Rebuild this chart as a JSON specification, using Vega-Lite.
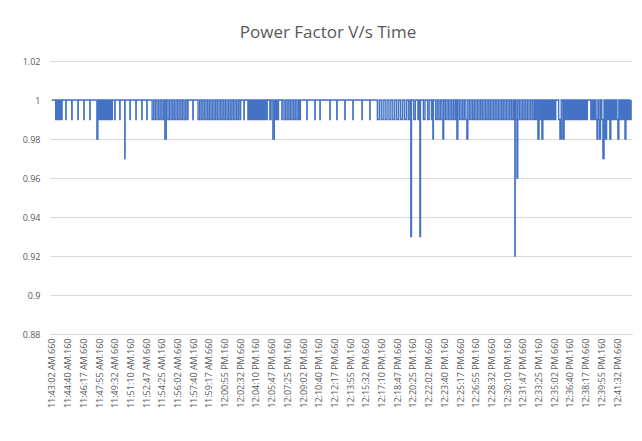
{
  "$schema": "https://vega.github.io/schema/vega-lite/v6.json",
  "autosize": "none",
  "width": 582,
  "height": 273,
  "padding": {"left": 50, "top": 61, "right": 10, "bottom": 107},
  "background": "white",
  "title": {"text": "Power Factor V/s Time", "fontSize": 17, "font": "Open Sans", "fontWeight": "normal", "color": "#595959", "dx": -13, "offset": 15},
  "config": {"view": {"stroke": null}},
  "data": {
    "format": {"parse": {"t": "utc:'%H:%M:%S'"}},
    "values": [
      {"t":"11:43:03","v":1},
      {"t":"11:43:20","v":1},{"t":"11:43:26","v":0.99},{"t":"11:43:32","v":1},{"t":"11:43:38","v":0.99},{"t":"11:43:44","v":1},{"t":"11:43:50","v":0.99},{"t":"11:43:56","v":1},{"t":"11:44:02","v":0.99},{"t":"11:44:06","v":1},
      {"t":"11:44:27","v":1},{"t":"11:44:29","v":0.99},{"t":"11:44:31","v":1},
      {"t":"11:45:04","v":1},{"t":"11:45:06","v":0.99},{"t":"11:45:08","v":1},
      {"t":"11:45:42","v":1},{"t":"11:45:44","v":0.99},{"t":"11:45:46","v":1},
      {"t":"11:46:19","v":1},{"t":"11:46:21","v":0.99},{"t":"11:46:23","v":1},
      {"t":"11:46:56","v":1},{"t":"11:46:58","v":0.99},{"t":"11:47:00","v":1},
      {"t":"11:47:38","v":1},{"t":"11:47:42","v":0.98},{"t":"11:47:48","v":1},{"t":"11:47:54","v":0.99},{"t":"11:48:02","v":1},{"t":"11:48:10","v":0.99},{"t":"11:48:18","v":1},{"t":"11:48:26","v":0.99},{"t":"11:48:34","v":1},{"t":"11:48:42","v":0.99},{"t":"11:48:50","v":1},{"t":"11:48:58","v":0.99},{"t":"11:49:06","v":1},{"t":"11:49:14","v":0.99},{"t":"11:49:18","v":1},
      {"t":"11:49:31","v":1},{"t":"11:49:33","v":0.99},{"t":"11:49:35","v":1},
      {"t":"11:50:02","v":1},{"t":"11:50:04","v":0.99},{"t":"11:50:06","v":1},
      {"t":"11:50:33","v":1},{"t":"11:50:35","v":0.97},{"t":"11:50:37","v":1},
      {"t":"11:51:05","v":1},{"t":"11:51:07","v":0.99},{"t":"11:51:09","v":1},
      {"t":"11:51:42","v":1},{"t":"11:51:44","v":0.99},{"t":"11:51:46","v":1},
      {"t":"11:52:19","v":1},{"t":"11:52:21","v":0.99},{"t":"11:52:23","v":1},
      {"t":"11:52:50","v":1},{"t":"11:52:52","v":0.99},{"t":"11:52:54","v":1},
      {"t":"11:53:25","v":0.99},{"t":"11:53:35","v":1},{"t":"11:53:45","v":0.99},{"t":"11:53:55","v":1},{"t":"11:54:05","v":0.99},{"t":"11:54:15","v":1},{"t":"11:54:25","v":0.99},{"t":"11:54:35","v":1},{"t":"11:54:44","v":0.98},{"t":"11:54:53","v":1},{"t":"11:55:03","v":0.99},{"t":"11:55:13","v":1},{"t":"11:55:23","v":0.99},{"t":"11:55:33","v":1},{"t":"11:55:43","v":0.99},{"t":"11:55:53","v":1},{"t":"11:56:03","v":0.99},{"t":"11:56:13","v":1},{"t":"11:56:23","v":0.99},{"t":"11:56:33","v":1},{"t":"11:56:43","v":0.99},{"t":"11:56:53","v":1},{"t":"11:57:03","v":0.99},{"t":"11:57:08","v":1},
      {"t":"11:57:36","v":1},{"t":"11:57:38","v":0.99},{"t":"11:57:40","v":1},
      {"t":"11:58:10","v":0.99},{"t":"11:58:20","v":1},{"t":"11:58:30","v":0.99},{"t":"11:58:40","v":1},{"t":"11:58:50","v":0.99},{"t":"11:59:00","v":1},{"t":"11:59:10","v":0.99},{"t":"11:59:20","v":1},{"t":"11:59:30","v":0.99},{"t":"11:59:40","v":1},{"t":"11:59:50","v":0.99},{"t":"12:00:00","v":1},{"t":"12:00:10","v":0.99},{"t":"12:00:20","v":1},{"t":"12:00:30","v":0.99},{"t":"12:00:40","v":1},{"t":"12:00:50","v":0.99},{"t":"12:01:00","v":1},{"t":"12:01:10","v":0.99},{"t":"12:01:20","v":1},{"t":"12:01:30","v":0.99},{"t":"12:01:40","v":1},{"t":"12:01:50","v":0.99},{"t":"12:02:00","v":1},{"t":"12:02:10","v":0.99},{"t":"12:02:20","v":1},{"t":"12:02:30","v":0.99},{"t":"12:02:35","v":1},
      {"t":"12:02:53","v":1},{"t":"12:02:55","v":0.99},{"t":"12:02:57","v":1},
      {"t":"12:03:20","v":0.99},{"t":"12:03:28","v":1},{"t":"12:03:36","v":0.99},{"t":"12:03:44","v":1},{"t":"12:03:52","v":0.99},{"t":"12:04:00","v":1},{"t":"12:04:08","v":0.99},{"t":"12:04:16","v":1},{"t":"12:04:24","v":0.99},{"t":"12:04:32","v":1},{"t":"12:04:40","v":0.99},{"t":"12:04:48","v":1},{"t":"12:04:56","v":0.99},{"t":"12:05:04","v":1},{"t":"12:05:12","v":0.99},{"t":"12:05:20","v":1},
      {"t":"12:05:36","v":0.99},{"t":"12:05:44","v":1},{"t":"12:05:55","v":0.98},{"t":"12:06:04","v":1},{"t":"12:06:12","v":0.99},{"t":"12:06:20","v":1},{"t":"12:06:26","v":0.99},{"t":"12:06:30","v":1},
      {"t":"12:06:49","v":1},{"t":"12:06:51","v":0.99},{"t":"12:06:53","v":1},
      {"t":"12:07:04","v":0.99},{"t":"12:07:14","v":1},{"t":"12:07:24","v":0.99},{"t":"12:07:34","v":1},{"t":"12:07:44","v":0.99},{"t":"12:07:54","v":1},{"t":"12:08:04","v":0.99},{"t":"12:08:14","v":1},{"t":"12:08:24","v":0.99},{"t":"12:08:34","v":1},{"t":"12:08:42","v":0.99},{"t":"12:08:46","v":1},
      {"t":"12:09:24","v":1},{"t":"12:09:26","v":0.99},{"t":"12:09:28","v":1},
      {"t":"12:10:14","v":1},{"t":"12:10:16","v":0.99},{"t":"12:10:18","v":1},
      {"t":"12:10:45","v":1},{"t":"12:10:47","v":0.99},{"t":"12:10:49","v":1},
      {"t":"12:11:47","v":1},{"t":"12:11:49","v":0.99},{"t":"12:11:51","v":1},
      {"t":"12:12:30","v":1},{"t":"12:12:32","v":0.99},{"t":"12:12:34","v":1},
      {"t":"12:13:20","v":1},{"t":"12:13:22","v":0.99},{"t":"12:13:24","v":1},
      {"t":"12:14:10","v":1},{"t":"12:14:12","v":0.99},{"t":"12:14:14","v":1},
      {"t":"12:15:06","v":1},{"t":"12:15:08","v":0.99},{"t":"12:15:10","v":1},
      {"t":"12:15:55","v":1},{"t":"12:15:57","v":0.99},{"t":"12:15:59","v":1},
      {"t":"12:16:40","v":1},{"t":"12:16:44","v":0.99},{"t":"12:16:56","v":1},{"t":"12:17:08","v":0.99},{"t":"12:17:20","v":1},{"t":"12:17:32","v":0.99},{"t":"12:17:44","v":1},{"t":"12:17:56","v":0.99},{"t":"12:18:08","v":1},{"t":"12:18:20","v":0.99},{"t":"12:18:32","v":1},{"t":"12:18:44","v":0.99},{"t":"12:18:56","v":1},{"t":"12:19:08","v":0.99},{"t":"12:19:20","v":1},{"t":"12:19:32","v":0.99},{"t":"12:19:44","v":1},{"t":"12:19:56","v":0.99},{"t":"12:20:06","v":1},
      {"t":"12:20:12","v":0.93},{"t":"12:20:16","v":1},{"t":"12:20:30","v":0.99},{"t":"12:20:40","v":1},{"t":"12:20:56","v":0.99},{"t":"12:21:04","v":1},{"t":"12:21:08","v":0.93},{"t":"12:21:12","v":1},{"t":"12:21:30","v":0.99},{"t":"12:21:40","v":1},{"t":"12:21:56","v":0.99},{"t":"12:22:06","v":1},{"t":"12:22:20","v":0.99},{"t":"12:22:26","v":1},{"t":"12:22:29","v":0.98},{"t":"12:22:32","v":1},{"t":"12:22:46","v":0.99},{"t":"12:22:56","v":1},
      {"t":"12:23:06","v":0.99},{"t":"12:23:16","v":1},{"t":"12:23:26","v":0.99},{"t":"12:23:31","v":0.98},{"t":"12:23:36","v":1},{"t":"12:23:46","v":0.99},{"t":"12:23:56","v":1},
      {"t":"12:24:06","v":0.99},{"t":"12:24:16","v":1},{"t":"12:24:26","v":0.99},{"t":"12:24:36","v":1},{"t":"12:24:46","v":0.99},{"t":"12:24:52","v":1},{"t":"12:24:58","v":0.98},{"t":"12:25:04","v":1},{"t":"12:25:14","v":0.99},{"t":"12:25:24","v":1},{"t":"12:25:34","v":0.99},{"t":"12:25:44","v":1},{"t":"12:25:54","v":0.99},
      {"t":"12:26:00","v":0.98},{"t":"12:26:06","v":1},{"t":"12:26:16","v":0.99},{"t":"12:26:26","v":1},{"t":"12:26:36","v":0.99},{"t":"12:26:46","v":1},{"t":"12:26:56","v":0.99},
      {"t":"12:27:06","v":1},{"t":"12:27:16","v":0.99},{"t":"12:27:26","v":1},{"t":"12:27:36","v":0.99},{"t":"12:27:46","v":1},{"t":"12:27:56","v":0.99},
      {"t":"12:28:06","v":1},{"t":"12:28:16","v":0.99},{"t":"12:28:26","v":1},{"t":"12:28:36","v":0.99},{"t":"12:28:46","v":1},{"t":"12:28:56","v":0.99},
      {"t":"12:29:06","v":1},{"t":"12:29:16","v":0.99},{"t":"12:29:26","v":1},{"t":"12:29:36","v":0.99},{"t":"12:29:46","v":1},{"t":"12:29:56","v":0.99},
      {"t":"12:30:06","v":1},{"t":"12:30:16","v":0.99},{"t":"12:30:26","v":1},{"t":"12:30:36","v":0.99},{"t":"12:30:46","v":1},{"t":"12:30:54","v":0.99},{"t":"12:30:56","v":1},{"t":"12:30:58","v":0.92},{"t":"12:31:00","v":1},{"t":"12:31:06","v":0.99},{"t":"12:31:11","v":0.96},{"t":"12:31:16","v":1},{"t":"12:31:26","v":0.99},{"t":"12:31:36","v":1},{"t":"12:31:46","v":0.99},{"t":"12:31:56","v":1},
      {"t":"12:32:06","v":0.99},{"t":"12:32:16","v":1},{"t":"12:32:26","v":0.99},{"t":"12:32:36","v":1},{"t":"12:32:46","v":0.99},{"t":"12:32:56","v":1},
      {"t":"12:33:04","v":0.99},{"t":"12:33:12","v":1},{"t":"12:33:21","v":0.98},{"t":"12:33:28","v":1},{"t":"12:33:36","v":0.99},{"t":"12:33:41","v":1},{"t":"12:33:46","v":0.98},{"t":"12:33:52","v":1},
      {"t":"12:34:00","v":0.99},{"t":"12:34:08","v":1},{"t":"12:34:16","v":0.99},{"t":"12:34:24","v":1},{"t":"12:34:32","v":0.99},{"t":"12:34:40","v":1},{"t":"12:34:48","v":0.99},{"t":"12:34:56","v":1},
      {"t":"12:35:04","v":0.99},{"t":"12:35:12","v":1},{"t":"12:35:30","v":0.99},{"t":"12:35:38","v":0.98},{"t":"12:35:46","v":1},{"t":"12:35:56","v":0.98},{"t":"12:36:04","v":1},{"t":"12:36:12","v":0.99},{"t":"12:36:20","v":1},{"t":"12:36:28","v":0.99},{"t":"12:36:36","v":1},{"t":"12:36:44","v":0.99},{"t":"12:36:52","v":1},
      {"t":"12:37:00","v":0.99},{"t":"12:37:08","v":1},{"t":"12:37:16","v":0.99},{"t":"12:37:24","v":1},{"t":"12:37:32","v":0.99},{"t":"12:37:40","v":1},{"t":"12:37:48","v":0.99},{"t":"12:37:56","v":1},
      {"t":"12:38:04","v":0.99},{"t":"12:38:12","v":1},{"t":"12:38:20","v":0.99},{"t":"12:38:28","v":1},{"t":"12:38:50","v":0.99},{"t":"12:38:58","v":1},
      {"t":"12:39:06","v":0.99},{"t":"12:39:14","v":1},{"t":"12:39:22","v":0.99},{"t":"12:39:28","v":0.98},{"t":"12:39:34","v":1},{"t":"12:39:40","v":0.99},{"t":"12:39:45","v":0.98},{"t":"12:39:50","v":1},{"t":"12:39:58","v":0.99},
      {"t":"12:40:05","v":0.97},{"t":"12:40:12","v":1},{"t":"12:40:20","v":0.98},{"t":"12:40:28","v":1},{"t":"12:40:36","v":0.99},{"t":"12:40:42","v":1},{"t":"12:40:48","v":0.98},{"t":"12:40:54","v":1},
      {"t":"12:41:02","v":0.99},{"t":"12:41:10","v":1},{"t":"12:41:18","v":0.99},{"t":"12:41:26","v":1},{"t":"12:41:32","v":0.99},{"t":"12:41:38","v":0.98},{"t":"12:41:44","v":1},{"t":"12:41:52","v":0.99},
      {"t":"12:42:00","v":1},{"t":"12:42:08","v":0.99},{"t":"12:42:16","v":1},{"t":"12:42:22","v":0.98},{"t":"12:42:28","v":1},{"t":"12:42:36","v":0.99},{"t":"12:42:44","v":1},{"t":"12:42:52","v":0.99},{"t":"12:43:00","v":1}
    ]
  },
  "mark": {"type": "line", "color": "#4472C4", "strokeWidth": 1.4, "interpolate": "step-after"},
  "encoding": {
    "x": {
      "field": "t",
      "type": "temporal",
      "scale": {"type": "utc", "domain": [-2208946629340, -2208943014340]},
      "axis": {
        "title": null,
        "values": [-2208946617340,-2208946519840,-2208946422340,-2208946324840,-2208946227340,-2208946129840,-2208946032340,-2208945934840,-2208945837340,-2208945739840,-2208945642340,-2208945544840,-2208945447340,-2208945349840,-2208945252340,-2208945154840,-2208945057340,-2208944959840,-2208944862340,-2208944764840,-2208944667340,-2208944569840,-2208944472340,-2208944374840,-2208944277340,-2208944179840,-2208944082340,-2208943984840,-2208943887340,-2208943789840,-2208943692340,-2208943594840,-2208943497340,-2208943399840,-2208943302340,-2208943204840,-2208943107340],
        "labelExpr": "utcFormat(datum.value, '%I:%M:%S %p') + '.' + utcFormat(datum.value, '%L')",
        "labelAngle": -90,
        "labelOverlap": false,
        "labelLimit": 200,
        "labelFontSize": 9,
        "labelFont": "Open Sans",
        "labelColor": "#595959",
        "labelPadding": 4,
        "grid": false,
        "ticks": false,
        "domainColor": "#d9d9d9",
        "labelFlush": false
      }
    },
    "y": {
      "field": "v",
      "type": "quantitative",
      "scale": {"domain": [0.88, 1.02], "nice": false, "zero": false},
      "axis": {
        "title": null,
        "values": [0.88, 0.9, 0.92, 0.94, 0.96, 0.98, 1, 1.02],
        "format": ".2~f",
        "grid": true,
        "gridColor": "#d9d9d9",
        "domain": false,
        "ticks": false,
        "labelFontSize": 9,
        "labelFont": "Open Sans",
        "labelColor": "#595959",
        "labelPadding": 10
      }
    }
  }
}
